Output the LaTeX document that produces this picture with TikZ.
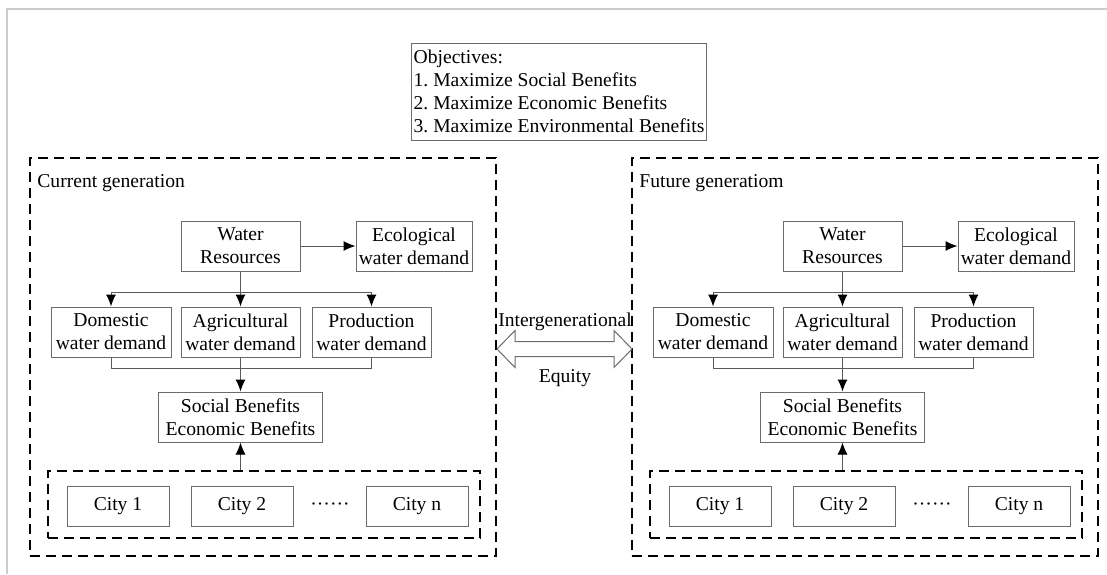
\documentclass[tikz,border=0pt]{standalone}
\usepackage{fontspec}
\setmainfont{Liberation Serif}
\usetikzlibrary{arrows.meta}
\frenchspacing

\begin{document}
\begin{tikzpicture}[%
  x=0.5pt, y=-0.5pt,
  font=\fontsize{9.8}{11.5}\selectfont,
  box/.style={draw=gray!85!black, line width=0.5pt, inner sep=0pt,
    minimum height=25pt, align=center},
  citybox/.style={box, minimum width=51pt, minimum height=20pt},
  group/.style={draw, dashed, line width=0.75pt,
    dash pattern=on 5pt off 3pt, inner sep=0pt},
  link/.style={draw=gray!70!black, line width=0.5pt},
  arr/.style={link, -{Latex[length=6pt, width=5pt, color=black]}}]
\useasboundingbox (0,0) rectangle (1107,574);
% frame of the page
\draw[gray!40, line width=1pt] (7,574) -- (7,9) -- (1107,9);

\node[box, align=left, minimum width=146pt, minimum height=48.5pt,
  inner xsep=1pt] (goal) at (559,91.5)
  {Objectives:\\1. Maximize Social Benefits\\2. Maximize Economic Benefits\\3. Maximize Environmental Benefits};

\foreach \g/\dx/\title in {c/0/Current generation, f/602/Future generatiom}{
  \begin{scope}[shift={(\dx,0)}]
    \node[group, minimum width=233pt, minimum height=199pt] (\g-panel) at (263,357) {};
    \node[anchor=west, inner sep=0pt] (\g-title) at (37,183) {\title};
    \node[box, minimum width=59.5pt] (\g-water) at (240.5,246) {Water\\Resources};
    \node[box, minimum width=58pt] (\g-eco) at (414,246) {Ecological\\water demand};
    \node[box, minimum width=60pt] (\g-dom) at (111,332) {Domestic\\water demand};
    \node[box, minimum width=59.5pt] (\g-agri) at (240.5,332) {Agricultural\\water demand};
    \node[box, minimum width=59.5pt] (\g-prod) at (371.5,332) {Production\\water demand};
    \node[box, minimum width=82pt] (\g-social) at (240.5,417) {Social Benefits\\Economic Benefits};
    \node[group, minimum width=216pt, minimum height=33.5pt] (\g-cities) at (264,504.5) {};
    \node[citybox] (\g-city1) at (118,506) {City 1};
    \node[citybox] (\g-city2) at (242,506) {City 2};
    \node (\g-dots) at (330,507) {\textperiodcentered\textperiodcentered\textperiodcentered\textperiodcentered\textperiodcentered\textperiodcentered};
    \node[citybox] (\g-cityn) at (417,506) {City n};
    \coordinate (\g-split) at (240.5,292);
    \coordinate (\g-merge) at (240.5,368);
    % connectors
    \draw[arr] (\g-water) -- (\g-eco);
    \draw[link] (\g-water) -- (\g-split);
    \draw[arr] (\g-split) -- (\g-agri);
    \draw[arr] (\g-split) -| (\g-dom.north);
    \draw[arr] (\g-split) -| (\g-prod.north);
    \draw[link] (\g-dom.south) |- (\g-merge) -| (\g-prod.south);
    \draw[link] (\g-agri) -- (\g-merge);
    \draw[arr] (\g-merge) -- (\g-social);
    \draw[arr] (\g-social.south |- \g-cities.north) -- (\g-social.south);
  \end{scope}
}

% wide double arrow between the two generations
\coordinate (eqL) at (497,349);
\coordinate (eqR) at (632,349);
\draw[draw=gray!85!black, line width=0.5pt] (eqL) -- ++(18,-18.5) -- ++(0,11)
  -- ++(99,0) -- ++(0,-11) -- (eqR) -- ++(-18,18.5) -- ++(0,-11)
  -- ++(-99,0) -- ++(0,11) -- cycle;
\node (intergen) at (565,322) {Intergenerational};
\node (eqlabel) at (565,378) {Equity};
\end{tikzpicture}
\end{document}
